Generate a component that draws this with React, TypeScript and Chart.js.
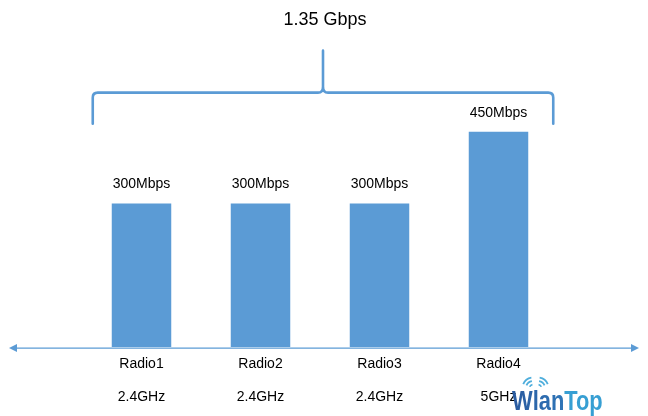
import React, { useEffect, useRef } from "react";
import { Chart, registerables } from "chart.js";

Chart.register(...registerables);

const radios = ["Radio1", "Radio2", "Radio3", "Radio4"];
const bands = ["2.4GHz", "2.4GHz", "2.4GHz", "5GHz"];
const speedsMbps = [300, 300, 300, 450];
const speedUnit = "Mbps";

const BLUE = "#5B9BD5";
const FONT = "'Liberation Sans', Arial, sans-serif";

const decorPlugin = {
  id: "decor",
  afterDatasetsDraw(chart: any) {
    const ctx = chart.ctx as CanvasRenderingContext2D;
    const meta = chart.getDatasetMeta(0);
    const bars = meta.data as any[];
    ctx.save();
    // value labels
    ctx.fillStyle = "#000";
    ctx.font = `14px ${FONT}`;
    ctx.textAlign = "center";
    ctx.textBaseline = "middle";
    bars.forEach((b, i) => {
      ctx.fillText(`${speedsMbps[i]}${speedUnit}`, b.x, b.y - 19);
    });

    // axis line with arrows
    const ay = chart.chartArea.bottom + 1;
    const W = chart.width;
    const x0 = 9;
    const x1 = W - 9;
    ctx.strokeStyle = BLUE;
    ctx.fillStyle = BLUE;
    ctx.lineWidth = 1.3;
    ctx.beginPath();
    ctx.moveTo(x0 + 4, ay);
    ctx.lineTo(x1 - 4, ay);
    ctx.stroke();
    ctx.beginPath();
    ctx.moveTo(x0, ay);
    ctx.lineTo(x0 + 8, ay - 4);
    ctx.lineTo(x0 + 8, ay + 4);
    ctx.closePath();
    ctx.fill();
    ctx.beginPath();
    ctx.moveTo(x1, ay);
    ctx.lineTo(x1 - 8, ay - 4);
    ctx.lineTo(x1 - 8, ay + 4);
    ctx.closePath();
    ctx.fill();

    // brace over all bars
    const first = bars[0];
    const last = bars[bars.length - 1];
    const left = first.x - first.width / 2 - 19;
    const right = last.x + last.width / 2 + 25;
    const topBar = Math.min(...bars.map((b) => b.y));
    const endY = topBar - 8;
    const hy = topBar - 39;
    const cuspTop = topBar - 81;
    const cx = (left + right) / 2;
    const r = 5;
    ctx.lineWidth = 2.6;
    ctx.lineCap = "round";
    ctx.lineJoin = "round";
    ctx.beginPath();
    ctx.moveTo(left, endY);
    ctx.lineTo(left, hy + r);
    ctx.quadraticCurveTo(left, hy, left + r, hy);
    ctx.lineTo(cx - 5, hy);
    ctx.quadraticCurveTo(cx, hy, cx, hy - 6);
    ctx.lineTo(cx, cuspTop);
    ctx.moveTo(cx, hy - 6);
    ctx.quadraticCurveTo(cx, hy, cx + 5, hy);
    ctx.lineTo(right - r, hy);
    ctx.quadraticCurveTo(right, hy, right, hy + r);
    ctx.lineTo(right, endY);
    ctx.stroke();

    // total
    const total = speedsMbps.reduce((a, v) => a + v, 0) / 1000;
    ctx.fillStyle = "#000";
    ctx.font = `18px ${FONT}`;
    ctx.textAlign = "center";
    ctx.textBaseline = "middle";
    ctx.fillText(`${total} Gbps`, cx + 2, topBar - 112);
    ctx.restore();
  },
  afterDraw(chart: any) {
    const ctx = chart.ctx as CanvasRenderingContext2D;
    const W = chart.width;
    const H = chart.height;
    ctx.save();
    // watermark
    const tx = W - 136;
    const ty = H - 6;
    ctx.translate(tx, ty);
    ctx.scale(0.81, 1);
    ctx.font = `bold 27px ${FONT}`;
    ctx.textAlign = "left";
    ctx.textBaseline = "alphabetic";
    const wW = ctx.measureText("Wlan").width;
    const grad = ctx.createLinearGradient(0, 0, wW, 0);
    grad.addColorStop(0, "#2A5A9F");
    grad.addColorStop(1, "#2F76B8");
    ctx.fillStyle = grad;
    ctx.fillText("Wlan", 0, 0);
    ctx.fillStyle = "#379FD3";
    ctx.fillText("Top", wW, 0);
    ctx.restore();
    // wifi arcs
    ctx.save();
    ctx.strokeStyle = "#4FAEDC";
    ctx.lineWidth = 1.8;
    const cyA = H - 28;
    const lcx = W - 115;
    const rcx = W - 110;
    [3.5, 7, 10.5].forEach((rad) => {
      ctx.beginPath();
      ctx.arc(lcx, cyA, rad, Math.PI * 1.12, Math.PI * 1.45);
      ctx.stroke();
      ctx.beginPath();
      ctx.arc(rcx, cyA, rad, Math.PI * 1.55, Math.PI * 1.88);
      ctx.stroke();
    });
    ctx.restore();
  },
};

export default function App() {
  const ref = useRef<HTMLCanvasElement | null>(null);
  useEffect(() => {
    document.body.style.margin = "0";
    if (!ref.current) return;
    const chart = new Chart(ref.current, {
      type: "bar",
      data: {
        labels: radios.map((r, i) => [r, bands[i]]),
        datasets: [
          {
            data: speedsMbps,
            backgroundColor: BLUE,
            borderWidth: 0,
            barPercentage: 0.5,
            categoryPercentage: 1,
          },
        ],
      },
      options: {
        animation: false,
        responsive: false,
        layout: { padding: { left: 82, right: 90, top: 0, bottom: 2 } },
        plugins: {
          legend: { display: false },
          tooltip: { enabled: false },
        },
        scales: {
          x: {
            grid: { display: false, drawTicks: false },
            border: { display: false },
            ticks: {
              padding: 0,
              color: "#000",
              font: { family: FONT, size: 14, lineHeight: 2.39 },
              maxRotation: 0,
              autoSkip: false,
            },
          },
          y: {
            display: false,
            min: 0,
            max: 725,
          },
        },
      },
      plugins: [decorPlugin],
    });
    return () => chart.destroy();
  }, []);
  return (
    <div style={{ width: 648, height: 416 }}>
      <canvas ref={ref} width={648} height={416} />
    </div>
  );
}
